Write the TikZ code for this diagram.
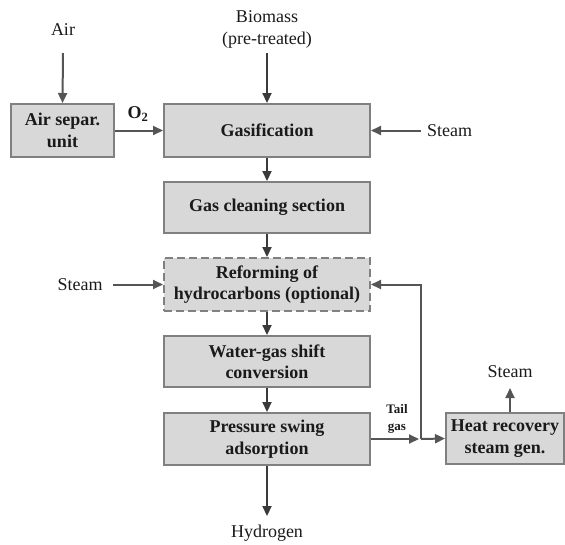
\documentclass[tikz,border=0pt]{standalone}
\usepackage{fontspec}
\setmainfont{Liberation Serif}
\usetikzlibrary{arrows.meta}
\definecolor{boxfill}{HTML}{D8D8D8}
\definecolor{boxline}{HTML}{808080}
\definecolor{flowdark}{HTML}{3A3A3A}
\definecolor{flowside}{HTML}{555555}
\definecolor{txt}{HTML}{1A1A1A}
\begin{document}
\begin{tikzpicture}[x=1pt,y=-1pt,
  unitbox/.style={draw=boxline, fill=boxfill, line width=2pt, align=center,
    font=\fontsize{18}{21.5}\selectfont\bfseries, text=txt, inner sep=0pt},
  dashbox/.style={unitbox, dash pattern=on 8pt off 4pt},
  lbl/.style={font=\fontsize{18}{22}\selectfont, text=txt, align=center, inner sep=0pt},
  mainflow/.style={draw=flowdark, line width=2.2pt, -{Triangle[length=10pt,width=9pt]}},
  sideflow/.style={draw=flowside, line width=2pt, -{Triangle[length=10pt,width=9pt]}}
]
\useasboundingbox (0,0) rectangle (565,544);

% boxes
\node[unitbox, minimum width=103pt, minimum height=53pt] (asu) at (62.5,130.5) {Air separ.\\unit};
\node[unitbox, minimum width=206pt, minimum height=53pt] (gas) at (267,130.5) {Gasification};
\node[unitbox, minimum width=206pt, minimum height=51pt] (clean) at (267,207.5) {Gas cleaning section};
\node[dashbox, minimum width=206pt, minimum height=53pt] (ref) at (267,284.5) {Reforming of\\hydrocarbons (optional)};
\node[unitbox, minimum width=206pt, minimum height=51pt] (wgs) at (267,361.5) {Water-gas shift\\conversion};
\node[unitbox, minimum width=206pt, minimum height=52pt] (psa) at (267,439) {Pressure swing\\adsorption};
\node[unitbox, minimum width=118pt, minimum height=51pt] (hrsg) at (505,438.5) {Heat recovery\\steam gen.};

% labels
\node[lbl] (air) at (63,30) {Air};
\node[lbl] (bio) at (267,29) {Biomass\\(pre-treated)};
\node[lbl, anchor=west] (steamR) at (427,131) {Steam};
\node[lbl] (steamL) at (80,285) {Steam};
\node[lbl] (steamT) at (510,372) {Steam};
\node[lbl] (h2) at (267,533) {Hydrogen};
\node[lbl, font=\fontsize{18}{22}\selectfont\bfseries] (o2) at (138,114) {O\textsubscript{2}};
\node[lbl, font=\fontsize{13}{17.5}\selectfont\bfseries] (tail) at (397,419) {Tail\\gas};

% free ends
\coordinate (airS) at (63,53);
\coordinate (bioS) at (267,53);
\coordinate (steamRS) at (421,130.5);
\coordinate (steamLS) at (113,284.5);
\coordinate (steamTE) at (510,388);
\coordinate (h2E) at (267,516);
\coordinate (j) at (421,439);

% connectors
\draw[sideflow] (airS) -- (asu.north);
\draw[mainflow] (bioS) -- (gas.north);
\draw[sideflow] (asu.east) -- (gas.west);
\draw[sideflow] (steamRS) -- (gas.east);
\draw[mainflow] (gas.south) -- (clean.north);
\draw[mainflow] (clean.south) -- (ref.north);
\draw[sideflow] (steamLS) -- (ref.west);
\draw[mainflow] (ref.south) -- (wgs.north);
\draw[mainflow] (wgs.south) -- (psa.north);
\draw[mainflow] (psa.south) -- (h2E);
\draw[sideflow] (psa.east) -- ([xshift=-2pt]j);
\draw[sideflow] (j) -- (hrsg.west);
\draw[sideflow] (j) |- (ref.east);
\draw[sideflow] (hrsg.north -| steamTE) -- (steamTE);
\end{tikzpicture}
\end{document}
